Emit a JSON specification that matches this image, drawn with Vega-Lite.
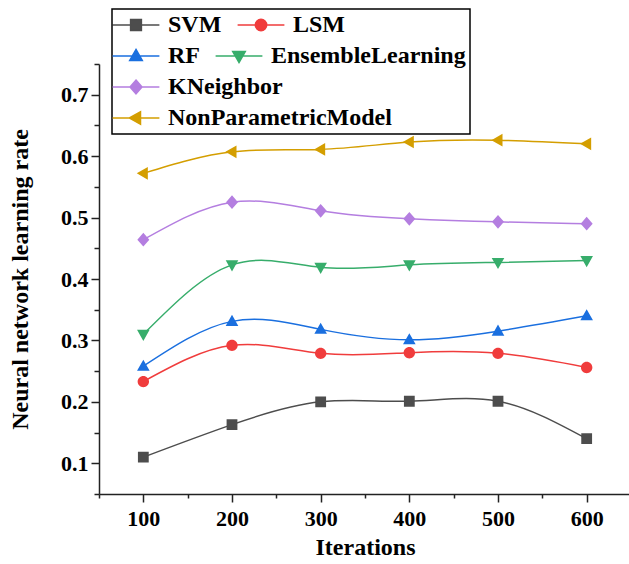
{
  "$schema": "https://vega.github.io/schema/vega-lite/v6.json",
  "width": 532,
  "height": 430,
  "autosize": {"type": "none"},
  "padding": {"left": 99, "top": 64, "right": 0, "bottom": 70},
  "background": "white",
  "data": {
    "values": [
      {"iter": 100, "series": "SVM", "value": 0.11},
      {"iter": 200, "series": "SVM", "value": 0.163},
      {"iter": 300, "series": "SVM", "value": 0.2},
      {"iter": 400, "series": "SVM", "value": 0.201},
      {"iter": 500, "series": "SVM", "value": 0.201},
      {"iter": 600, "series": "SVM", "value": 0.14},
      {"iter": 100, "series": "LSM", "value": 0.233},
      {"iter": 200, "series": "LSM", "value": 0.292},
      {"iter": 300, "series": "LSM", "value": 0.279},
      {"iter": 400, "series": "LSM", "value": 0.28},
      {"iter": 500, "series": "LSM", "value": 0.279},
      {"iter": 600, "series": "LSM", "value": 0.256},
      {"iter": 100, "series": "RF", "value": 0.258},
      {"iter": 200, "series": "RF", "value": 0.331},
      {"iter": 300, "series": "RF", "value": 0.318},
      {"iter": 400, "series": "RF", "value": 0.301},
      {"iter": 500, "series": "RF", "value": 0.315},
      {"iter": 600, "series": "RF", "value": 0.34},
      {"iter": 100, "series": "EnsembleLearning", "value": 0.31},
      {"iter": 200, "series": "EnsembleLearning", "value": 0.423},
      {"iter": 300, "series": "EnsembleLearning", "value": 0.419},
      {"iter": 400, "series": "EnsembleLearning", "value": 0.423},
      {"iter": 500, "series": "EnsembleLearning", "value": 0.427},
      {"iter": 600, "series": "EnsembleLearning", "value": 0.43},
      {"iter": 100, "series": "KNeighbor", "value": 0.464},
      {"iter": 200, "series": "KNeighbor", "value": 0.525},
      {"iter": 300, "series": "KNeighbor", "value": 0.511},
      {"iter": 400, "series": "KNeighbor", "value": 0.498},
      {"iter": 500, "series": "KNeighbor", "value": 0.493},
      {"iter": 600, "series": "KNeighbor", "value": 0.49},
      {"iter": 100, "series": "NonParametricModel", "value": 0.572},
      {"iter": 200, "series": "NonParametricModel", "value": 0.607},
      {"iter": 300, "series": "NonParametricModel", "value": 0.611},
      {"iter": 400, "series": "NonParametricModel", "value": 0.623},
      {"iter": 500, "series": "NonParametricModel", "value": 0.626},
      {"iter": 600, "series": "NonParametricModel", "value": 0.62}
    ]
  },
  "encoding": {
    "x": {
      "field": "iter", "type": "quantitative",
      "scale": {"domain": [50, 650], "nice": false, "zero": false},
      "axis": {
        "title": "Iterations",
        "values": [50, 100, 150, 200, 250, 300, 350, 400, 450, 500, 550, 600],
        "labelExpr": "datum.value % 100 === 0 ? datum.label : ''",
        "tickSize": {"condition": {"test": "datum.value % 100 !== 0", "value": 4}, "value": 8},
        "labelPadding": 6,
        "titlePadding": 6
      }
    },
    "y": {
      "field": "value", "type": "quantitative",
      "scale": {"domain": [0.05, 0.75], "nice": false, "zero": false},
      "axis": {
        "title": "Neural network learning rate",
        "values": [0.05, 0.1, 0.15, 0.2, 0.25, 0.3, 0.35, 0.4, 0.45, 0.5, 0.55, 0.6, 0.65, 0.7, 0.75],
        "labelExpr": "round(datum.value * 100) % 10 === 0 ? format(datum.value, '.1f') : ''",
        "tickSize": {"condition": {"test": "round(datum.value * 100) % 10 !== 0", "value": 5}, "value": 8},
        "labelPadding": 3,
        "titlePadding": 28
      }
    }
  },
  "layer": [
    {
      "transform": [{"filter": {"field": "series", "oneOf": ["SVM", "LSM"]}}],
      "layer": [
        {
          "mark": {"type": "line", "interpolate": "natural", "strokeWidth": 1.5},
          "encoding": {
            "color": {
              "field": "series", "type": "nominal",
              "scale": {"domain": ["SVM", "LSM"], "range": ["#4d4d4d", "#f03c3c"]},
              "legend": {"title": null, "orient": "none", "legendX": 13, "legendY": -55, "direction": "horizontal"}
            }
          }
        },
        {
          "mark": {"type": "point", "filled": true, "opacity": 1, "size": 144, "strokeWidth": 0},
          "encoding": {
            "color": {
              "field": "series", "type": "nominal",
              "scale": {"domain": ["SVM", "LSM"], "range": ["#4d4d4d", "#f03c3c"]},
              "legend": {"title": null, "orient": "none", "legendX": 13, "legendY": -55, "direction": "horizontal"}
            },
            "stroke": {
              "field": "series", "type": "nominal",
              "scale": {"domain": ["SVM", "LSM"], "range": ["#808080", "#f37a7a"]},
              "legend": {"title": null, "orient": "none", "legendX": 13, "legendY": -55, "direction": "horizontal"}
            },
            "shape": {
              "field": "series", "type": "nominal",
              "scale": {
                "domain": ["SVM", "LSM"],
                "range": [
                  "M-3.9,0H3.9M-0.9,-0.9H0.9V0.9H-0.9Z",
                  "M-3.9,0H3.9M-0.95,0A0.95,0.95,0,1,0,0.95,0A0.95,0.95,0,1,0,-0.95,0Z"
                ]
              },
              "legend": {"title": null, "orient": "none", "legendX": 13, "legendY": -55, "direction": "horizontal"}
            }
          }
        }
      ]
    },
    {
      "transform": [{"filter": {"field": "series", "oneOf": ["RF", "EnsembleLearning"]}}],
      "layer": [
        {
          "mark": {"type": "line", "interpolate": "natural", "strokeWidth": 1.5},
          "encoding": {
            "color": {
              "field": "series", "type": "nominal",
              "scale": {
                "domain": ["p1", "RF", "p2", "p3", "p4", "EnsembleLearning", "p5", "p6"],
                "range": ["transparent", "#1a6fdf", "transparent", "transparent", "transparent", "#37ad6b", "transparent", "transparent"]
              },
              "legend": {"title": null, "orient": "none", "legendX": 13, "legendY": -55, "direction": "vertical", "columns": 2, "strokeColor": "black", "labelExpr": "datum.label == 'RF' || datum.label == 'EnsembleLearning' ? datum.label : ''"}
            }
          }
        },
        {
          "mark": {"type": "point", "filled": true, "opacity": 1, "size": 144, "strokeWidth": 0},
          "encoding": {
            "color": {
              "field": "series", "type": "nominal",
              "scale": {
                "domain": ["p1", "RF", "p2", "p3", "p4", "EnsembleLearning", "p5", "p6"],
                "range": ["transparent", "#1a6fdf", "transparent", "transparent", "transparent", "#37ad6b", "transparent", "transparent"]
              },
              "legend": {"title": null, "orient": "none", "legendX": 13, "legendY": -55, "direction": "vertical", "columns": 2, "strokeColor": "black", "labelExpr": "datum.label == 'RF' || datum.label == 'EnsembleLearning' ? datum.label : ''"}
            },
            "stroke": {
              "field": "series", "type": "nominal",
              "scale": {
                "domain": ["p1", "RF", "p2", "p3", "p4", "EnsembleLearning", "p5", "p6"],
                "range": ["transparent", "#6aa0ea", "transparent", "transparent", "transparent", "#7cca9e", "transparent", "transparent"]
              },
              "legend": {"title": null, "orient": "none", "legendX": 13, "legendY": -55, "direction": "vertical", "columns": 2, "strokeColor": "black", "labelExpr": "datum.label == 'RF' || datum.label == 'EnsembleLearning' ? datum.label : ''"}
            },
            "shape": {
              "field": "series", "type": "nominal",
              "scale": {
                "domain": ["p1", "RF", "p2", "p3", "p4", "EnsembleLearning", "p5", "p6"],
                "range": [
                  "M-0.01,0H0.01",
                  "M-3.9,0H3.9M0,-1.1L1.05,0.75H-1.05Z",
                  "M-0.01,0H0.01",
                  "M-0.01,0H0.01",
                  "M-0.01,0H0.01",
                  "M-3.9,0H3.9M0,1.1L1.05,-0.75H-1.05Z",
                  "M-0.01,0H0.01",
                  "M-0.01,0H0.01"
                ]
              },
              "legend": {"title": null, "orient": "none", "legendX": 13, "legendY": -55, "direction": "vertical", "columns": 2, "strokeColor": "black", "labelExpr": "datum.label == 'RF' || datum.label == 'EnsembleLearning' ? datum.label : ''"}
            }
          }
        }
      ]
    },
    {
      "transform": [{"filter": {"field": "series", "oneOf": ["KNeighbor", "NonParametricModel"]}}],
      "layer": [
        {
          "mark": {"type": "line", "interpolate": "natural", "strokeWidth": 1.5},
          "encoding": {
            "color": {
              "field": "series", "type": "nominal",
              "scale": {"domain": ["KNeighbor", "NonParametricModel"], "range": ["#b47ee0", "#d49e00"]},
              "legend": {"title": null, "orient": "none", "legendX": 13, "legendY": 7, "direction": "vertical"}
            }
          }
        },
        {
          "mark": {"type": "point", "filled": true, "opacity": 1, "size": 144, "strokeWidth": 0},
          "encoding": {
            "color": {
              "field": "series", "type": "nominal",
              "scale": {"domain": ["KNeighbor", "NonParametricModel"], "range": ["#b47ee0", "#d49e00"]},
              "legend": {"title": null, "orient": "none", "legendX": 13, "legendY": 7, "direction": "vertical"}
            },
            "stroke": {
              "field": "series", "type": "nominal",
              "scale": {"domain": ["KNeighbor", "NonParametricModel"], "range": ["#cba8ea", "#e0be55"]},
              "legend": {"title": null, "orient": "none", "legendX": 13, "legendY": 7, "direction": "vertical"}
            },
            "shape": {
              "field": "series", "type": "nominal",
              "scale": {
                "domain": ["KNeighbor", "NonParametricModel"],
                "range": [
                  "M-3.9,0H3.9M0,-1.15L1,0L0,1.15L-1,0Z",
                  "M-3.9,0H3.9M-1.1,0L0.75,-1.05V1.05Z"
                ]
              },
              "legend": {"title": null, "orient": "none", "legendX": 13, "legendY": 7, "direction": "vertical"}
            }
          }
        }
      ]
    }
  ],
  "resolve": {"scale": {"color": "independent", "stroke": "independent", "shape": "independent"}},
  "config": {
    "view": {"stroke": null},
    "font": "Liberation Serif",
    "axis": {
      "grid": false,
      "domainColor": "#222222", "domainWidth": 1.5,
      "tickColor": "#222222", "tickWidth": 1.5,
      "labelFont": "Liberation Serif", "labelFontWeight": "bold", "labelFontSize": 22, "labelColor": "black",
      "titleFont": "Liberation Serif", "titleFontWeight": "bold", "titleFontSize": 24, "titleColor": "black"
    },
    "legend": {
      "strokeWidth": 1.5, "strokeColor": "transparent", "fillColor": "transparent",
      "padding": 4, "rowPadding": 7, "columnPadding": 12,
      "symbolSize": 144, "symbolStrokeWidth": 1.5, "symbolOffset": 8, "labelOffset": 20,
      "labelFont": "Liberation Serif", "labelFontWeight": "bold", "labelFontSize": 24,
      "labelColor": "black", "labelLimit": 0
    }
  }
}
